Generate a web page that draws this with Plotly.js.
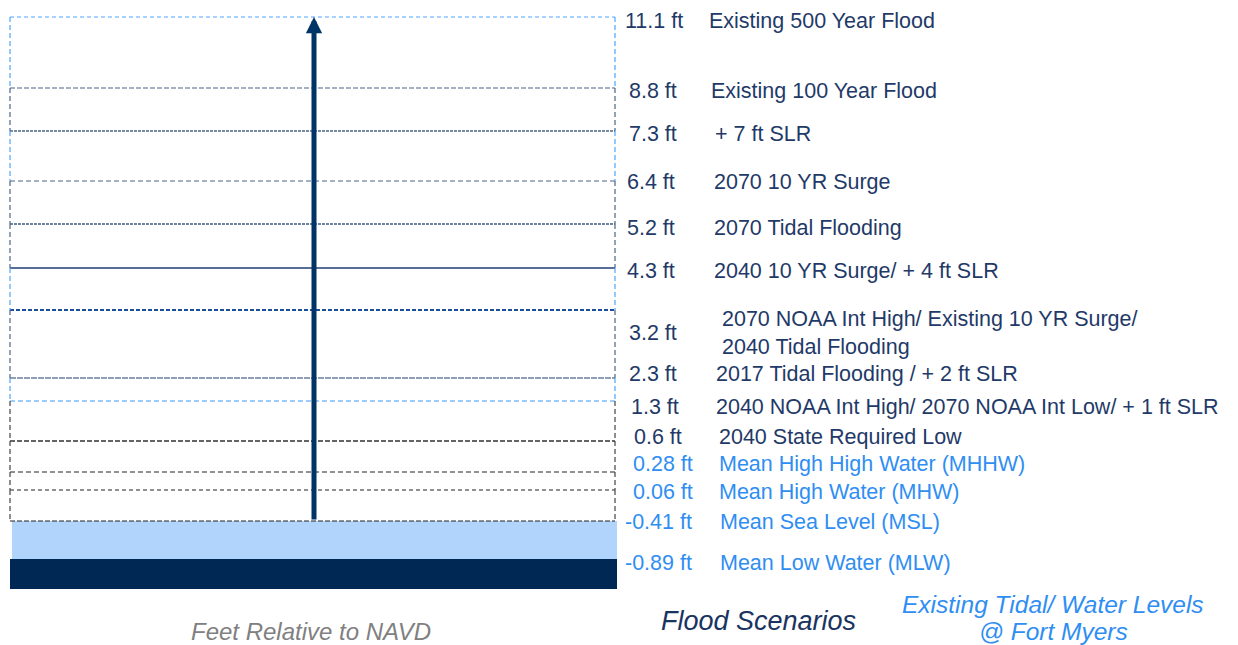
<!DOCTYPE html>
<html>
<head>
<meta charset="utf-8">
<script src="https://cdn.plot.ly/plotly-3.0.1.min.js"></script>
<style>html,body{margin:0;padding:0;background:#fff;}#chart{width:1238px;height:645px;}</style>
</head>
<body>
<div id="chart"></div>
<script>
// ---- data ----
const levelValues = [11.1, 8.8, 7.3, 6.4, 5.2, 4.3, 3.2, 2.3, 1.3, 0.6, 0.28, 0.06, -0.41, -0.89];
const levelNames = [
  "Existing 500 Year Flood",
  "Existing 100 Year Flood",
  "+ 7 ft SLR",
  "2070 10 YR Surge",
  "2070 Tidal Flooding",
  "2040 10 YR Surge/ + 4 ft SLR",
  "2070 NOAA Int High/ Existing 10 YR Surge/<br>2040 Tidal Flooding",
  "2017 Tidal Flooding / + 2 ft SLR",
  "2040 NOAA Int High/ 2070 NOAA Int Low/ + 1 ft SLR",
  "2040 State Required Low",
  "Mean High High Water (MHHW)",
  "Mean High Water (MHW)",
  "Mean Sea Level (MSL)",
  "Mean Low Water (MLW)"
];
const levelGroup = ["flood","flood","flood","flood","flood","flood","flood","flood","flood","flood","tidal","tidal","tidal","tidal"];
// schematic (non-proportional) elevation rows of the diagram, top = 0
const schematicRow = [17, 88, 131, 181, 224, 268, 310, 378, 401, 441, 472, 490, 521, 559];
const labelRow     = [21, 91, 134, 182, 228, 271, 333, 374, 407, 437, 464, 492, 522, 563];

// ---- styles ----
const NAVY = "#1f3a68", BLUE = "#2f8ef2";
const valueX = [623, 627, 627, 625, 625, 625, 627, 627, 629, 632, 631, 631, 623, 623];
const nameX  = [707, 709, 713, 712, 712, 712, 720, 714, 714, 717, 717, 717, 718, 718];
const lineStyle = [
  {c:"#4da6ff", w:1.2, d:"4px,3px"},
  {c:"#4d6485", w:1.2, d:"5px,2px"},
  {c:"#4d6485", w:1.6, d:"3px,1px"},
  {c:"#4d6485", w:1.2, d:"5px,3px"},
  {c:"#3f5a85", w:1.6, d:"3px,1px"},
  {c:"#1f3f73", w:1.3, d:"solid"},
  {c:"#1a4f9a", w:2.2, d:"4px,2px"},
  {c:"#6b7f9e", w:1.6, d:"6px,1px"},
  {c:"#3d9bff", w:1.2, d:"5px,3px"},
  {c:"#333333", w:1.3, d:"5px,2px"},
  {c:"#222222", w:1.2, d:"5px,3px"},
  {c:"#222222", w:1.2, d:"4px,3px"},
  {c:"#222222", w:1.2, d:"5px,2px"}
];
const sideColor = ["#4da6ff","#4d6485","#4da6ff","#4d6485","#4d6485","#4da6ff","#4d6485","#4da6ff","#444444","#444444","#444444","#444444"];
const X0 = 10, X1 = 615;

const traces = [];
for (let i = 0; i < lineStyle.length; i++) {
  const s = lineStyle[i];
  traces.push({x:[X0, X1], y:[schematicRow[i], schematicRow[i]], mode:"lines", hoverinfo:"skip",
    line:{color:s.c, width:s.w, dash:s.d}});
}
for (let i = 0; i < sideColor.length; i++) {
  [X0, X1].forEach(xx => traces.push({x:[xx, xx], y:[schematicRow[i], schematicRow[i+1]], mode:"lines", hoverinfo:"skip",
    line:{color:sideColor[i], width:1.2, dash:"5px,3px"}}));
}

const shapes = [
  {type:"rect", xref:"x", yref:"y", x0:12, x1:617, y0:schematicRow[12], y1:schematicRow[13], fillcolor:"#b0d4fc", line:{width:0}, layer:"below"},
  {type:"rect", xref:"x", yref:"y", x0:10, x1:617, y0:schematicRow[13], y1:589, fillcolor:"#002855", line:{width:0}, layer:"below"}
];

const FONT = "Liberation Sans, Arial, sans-serif";
const annotations = [];
for (let i = 0; i < levelValues.length; i++) {
  const col = levelGroup[i] === "tidal" ? BLUE : NAVY;
  annotations.push({x:valueX[i], y:labelRow[i], xref:"x", yref:"y", xanchor:"left", yanchor:"middle", showarrow:false,
    text:levelValues[i] + " ft", font:{family:FONT, size:21.5, color:col}});
  annotations.push({x:nameX[i], y:labelRow[i], xref:"x", yref:"y", xanchor:"left", yanchor:"middle", showarrow:false,
    align:"left", text:levelNames[i], font:{family:FONT, size:21.5, color:col}});
}
// arrow
annotations.push({x:314, y:schematicRow[0], ax:314, ay:schematicRow[12], xref:"x", yref:"y", axref:"x", ayref:"y",
  text:"", showarrow:true, arrowhead:2, arrowsize:0.65, arrowwidth:5, arrowcolor:"#003366"});
// captions
annotations.push({x:311, y:631, xref:"x", yref:"y", showarrow:false, text:"<i>Feet Relative to NAVD</i>",
  font:{family:FONT, size:24, color:"#808080"}});
annotations.push({x:758, y:621, xref:"x", yref:"y", showarrow:false, text:"<i>Flood Scenarios</i>",
  font:{family:FONT, size:27, color:"#1a3461"}});
annotations.push({x:1053, y:604, xref:"x", yref:"y", showarrow:false, text:"<i>Existing Tidal/ Water Levels</i>",
  font:{family:FONT, size:24.5, color:BLUE}});
annotations.push({x:1053, y:631, xref:"x", yref:"y", showarrow:false, text:"<i>@ Fort Myers</i>",
  font:{family:FONT, size:24.5, color:BLUE}});

Plotly.newPlot("chart", traces, {
  width:1238, height:645, margin:{l:0, r:0, t:0, b:0},
  paper_bgcolor:"#fff", plot_bgcolor:"#fff", showlegend:false,
  xaxis:{range:[0,1238], visible:false, fixedrange:true},
  yaxis:{range:[645,0], visible:false, fixedrange:true},
  shapes:shapes, annotations:annotations
}, {staticPlot:true});
</script>
</body>
</html>
